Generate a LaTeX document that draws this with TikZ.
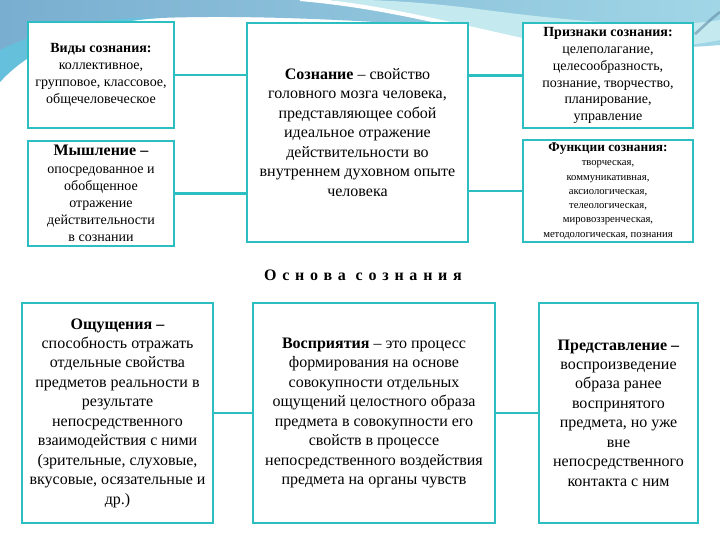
\documentclass[tikz,border=0pt]{standalone}
\usepackage{fontspec}
\setmainfont{Liberation Serif}
\definecolor{boxc}{RGB}{44,190,192}
\definecolor{bgA}{RGB}{122,174,208}
\definecolor{bgB}{RGB}{160,214,230}
\definecolor{bgC}{RGB}{92,200,226}
\definecolor{bgL}{RGB}{196,234,240}
\begin{document}
\begin{tikzpicture}[x=0.75pt,y=-0.75pt,
  box/.style={draw=boxc, line width=2pt, fill=white, align=center, inner sep=0pt},
  link/.style={draw=boxc, line width=2.2pt},
  big/.style={font=\fontsize{12}{14.6}\selectfont},
  mid/.style={font=\fontsize{10.5}{12.7}\selectfont},
  small/.style={font=\fontsize{8}{10.7}\selectfont}]
\useasboundingbox (0,0) rectangle (720,540);
\fill[white] (0,0) rectangle (720,540);
% background band
\shade[left color=bgA, right color=bgB] (0,0) -- (720,0) -- (720,45)
  .. controls (640,52) and (600,42) .. (540,36)
  .. controls (420,22) and (260,14) .. (160,18)
  .. controls (90,22) and (30,48) .. (0,82) -- cycle;
\fill[bgC, opacity=0.7] (0,82) .. controls (30,48) and (90,22) .. (160,18)
  .. controls (100,16) and (40,30) .. (0,50) -- cycle;
\fill[bgL] (330,0) .. controls (400,10) and (470,30) .. (560,45)
  .. controls (620,52) and (680,48) .. (720,40) -- (720,20)
  .. controls (660,30) and (560,20) .. (470,8) .. controls (420,2) and (380,0) .. (360,0) -- cycle;
\draw[white, line width=3pt] (300,-1) .. controls (380,6) and (440,22) .. (540,44);
\draw[bgA!80!black, line width=2pt, opacity=0.6] (695,34) .. controls (705,25) and (712,18) .. (720,12);
% boxes
\node[box, mid, minimum width=109.5pt, minimum height=79.5pt] (vid) at (101,75)
  {\textbf{Виды сознания:}\\коллективное,\\групповое, классовое,\\общечеловеческое};
\node[box, mid, minimum width=109.5pt, minimum height=78.75pt] (mysh) at (101,193.5)
  {{\fontsize{12}{14}\selectfont\textbf{Мышление –}}\\[1pt]опосредованное и\\обобщенное\\отражение\\действительности\\в сознании};
\node[box, big, minimum width=165.75pt, minimum height=164.25pt] (soz) at (357.5,132.5)
  {\textbf{Сознание} – свойство\\головного мозга человека,\\представляющее собой\\идеальное отражение\\действительности во\\внутреннем духовном опыте\\человека};
\node[box, mid, minimum width=127.5pt, minimum height=78.75pt] (pri) at (608,75.5)
  {\textbf{Признаки сознания:}\\целеполагание,\\целесообразность,\\познание, творчество,\\планирование,\\управление};
\node[box, small, minimum width=127.5pt, minimum height=76.5pt] (fun) at (608,191)
  {{\fontsize{10}{11}\selectfont\textbf{Функции сознания:}}\\творческая,\\коммуникативная,\\аксиологическая,\\телеологическая,\\мировоззренческая,\\методологическая, познания};
\node[font=\fontsize{12}{14}\selectfont\bfseries\addfontfeature{LetterSpace=36}] (osn) at (363,275) {Основа сознания};
\node[box, big, minimum width=143.25pt, minimum height=165pt] (osh) at (117.5,413)
  {\textbf{Ощущения –}\\способность отражать\\отдельные свойства\\предметов реальности в\\результате\\непосредственного\\взаимодействия с ними\\(зрительные, слуховые,\\вкусовые, осязательные и\\др.)};
\node[box, big, minimum width=181.5pt, minimum height=165pt] (vos) at (374,413)
  {\textbf{Восприятия} – это процесс\\формирования на основе\\совокупности отдельных\\ощущений целостного образа\\предмета в совокупности его\\свойств в процессе\\непосредственного воздействия\\предмета на органы чувств};
\node[box, big, minimum width=119.25pt, minimum height=165pt] (pre) at (618.5,413)
  {\textbf{Представление –}\\воспроизведение\\образа ранее\\воспринятого\\предмета, но уже\\вне\\непосредственного\\контакта с ним};
% connectors
\draw[link] (vid.east) -- (soz.west |- vid.east);
\draw[link] (mysh.east) -- (soz.west |- mysh.east);
\draw[link] (soz.east |- pri.west) -- (pri.west);
\draw[link] (soz.east |- fun.west) -- (fun.west);
\draw[link] (osh.east) -- (vos.west);
\draw[link] (vos.east) -- (pre.west);
\end{tikzpicture}
\end{document}
